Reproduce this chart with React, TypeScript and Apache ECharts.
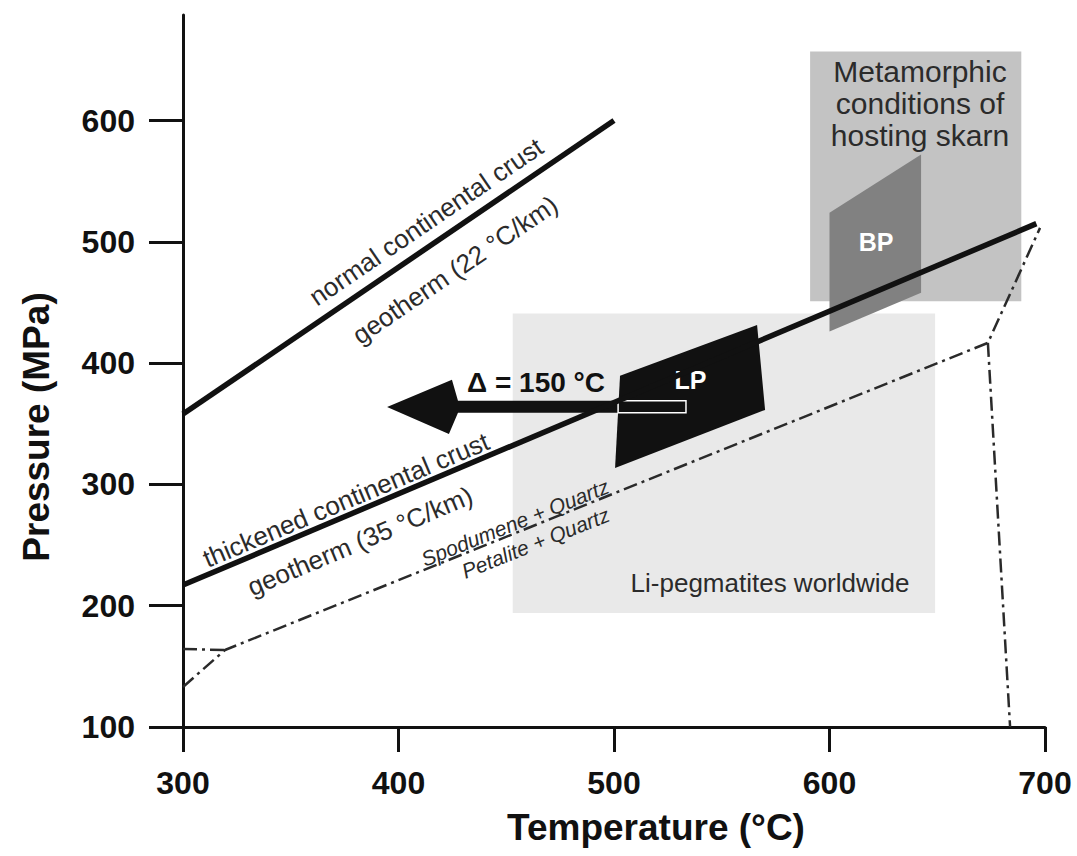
import React, { useEffect, useRef } from "react";
import * as echarts from "echarts";

const FONT = "'Liberation Sans', Arial, Helvetica, sans-serif";

// Axes
const xTicks = [300, 400, 500, 600, 700];
const yTicks = [100, 200, 300, 400, 500, 600];
const tempRange = [300, 700];
const pressRange = [100, 687];

// Geotherms (T °C, P MPa)
const normalGeotherm = [[300, 358], [500, 600]];
const thickenedGeotherm = [[300, 217], [696, 515]];

// Spodumene / Petalite phase boundaries (dash-dot)
const spdPetBoundary = [[300, 133], [319.5, 163.5], [673.5, 416.7], [697.7, 511.5]];
const lowPBranch = [[300, 164.3], [319.5, 163.5]];
const highTBranch = [[673.5, 416.7], [683.8, 100]];

// Fields
const liPegTemp = [453, 649];
const liPegPress = [194, 441];
const skarnTemp = [591, 689];
const skarnPress = [451, 657];
const bpField = [[600, 524], [642.5, 572], [642.5, 458], [600, 426]];
const lpField = [[502.8, 389.5], [566.4, 431.5], [570.1, 361.4], [500.5, 313.6]];

// Δ = 150 °C arrow
const arrowOutline = [
  [394.7, 363.9], [424.8, 386.2], [427.6, 368.9], [533.4, 368.9],
  [533.4, 359.0], [427.6, 359.0], [423.4, 341.6],
];
const arrowInLp = [[501.9, 368.9], [533.4, 368.9], [533.4, 359.0], [501.9, 359.0]];

// Annotation texts
const noteTexts = [
  "normal continental crust",
  "geotherm (22 °C/km)",
  "thickened continental crust",
  "geotherm (35 °C/km)",
  "Spodumene + Quartz",
  "Petalite + Quartz",
  "Li-pegmatites worldwide",
  "Metamorphic\nconditions of\nhosting skarn",
  "LP",
  "BP",
  "Δ = 150 °C",
];
const noteAnchors = [
  [412.8, 516.5],
  [426.2, 476.9],
  [375.6, 287.2],
  [382.1, 253.2],
  [454.1, 268.5],
  [463.6, 251.8],
  [572.4, 218.8],
  [642, 613.8],
  [535.5, 386.2],
  [621.6, 500],
  [463.8, 383.7],
];

const noteStyles = [
  { angle: 34.2, size: 26, color: "#2b2b2b" },
  { angle: 34.2, size: 26, color: "#2b2b2b" },
  { angle: 22.9, size: 26, color: "#2b2b2b" },
  { angle: 22.9, size: 26, color: "#2b2b2b" },
  { angle: 21.9, size: 21, color: "#2b2b2b", italic: true },
  { angle: 21.9, size: 21, color: "#2b2b2b", italic: true },
  { angle: 0, size: 26, color: "#2b2b2b" },
  { angle: 0, size: 30, color: "#2b2b2b", lineHeight: 32 },
  { angle: 0, size: 25, color: "#ffffff", bold: true },
  { angle: 0, size: 25, color: "#ffffff", bold: true },
  { angle: 0, size: 28, color: "#111111", bold: true },
];

function polygonSeries(pts: number[][], fill: string, stroke?: string, lineWidth?: number) {
  return {
    type: "custom",
    silent: true,
    data: [pts[0]],
    renderItem: (_params: any, api: any) => ({
      type: "polygon",
      shape: { points: pts.map((p) => api.coord(p)) },
      style: { fill, stroke: stroke || "none", lineWidth: lineWidth || 0 },
    }),
  };
}

function boxPoints(t: number[], p: number[]) {
  return [[t[0], p[0]], [t[1], p[0]], [t[1], p[1]], [t[0], p[1]]];
}

function lineSeries(data: number[][], width: number, dash?: number[]) {
  return {
    type: "line",
    silent: true,
    showSymbol: false,
    symbol: "none",
    data,
    lineStyle: { color: dash ? "#2a2a2a" : "#111111", width, type: dash || "solid" },
  };
}

export default function App() {
  const ref = useRef<HTMLDivElement>(null);

  useEffect(() => {
    document.body.style.margin = "0";
    if (!ref.current) return;
    const chart = echarts.init(ref.current, null, { renderer: "svg" });
    const dashDot = [14, 5, 3, 5];

    const option: any = {
      animation: false,
      backgroundColor: "#ffffff",
      grid: { left: 183, right: 32, top: 15, bottom: 129, outerBoundsMode: "none" },
      xAxis: {
        type: "value",
        min: tempRange[0],
        max: tempRange[1],
        interval: 100,
        name: "Temperature (°C)",
        nameLocation: "middle",
        nameGap: 82,
        nameTextStyle: {
          fontSize: 37, fontWeight: "bold", color: "#111", fontFamily: FONT,
          padding: [0, 0, 0, 84],
        },
        axisLine: { lineStyle: { color: "#111", width: 3 } },
        axisTick: { length: 25, lineStyle: { color: "#111", width: 3 }, customValues: xTicks },
        axisLabel: {
          margin: 40, fontSize: 32, fontWeight: "bold", color: "#111", fontFamily: FONT,
          customValues: xTicks,
        },
        splitLine: { show: false },
      },
      yAxis: {
        type: "value",
        min: pressRange[0],
        max: pressRange[1],
        interval: 100,
        name: "Pressure (MPa)",
        nameLocation: "middle",
        nameGap: 128,
        nameTextStyle: {
          fontSize: 37, fontWeight: "bold", color: "#111", fontFamily: FONT,
          padding: [0, 112, 0, 0],
        },
        axisLine: { lineStyle: { color: "#111", width: 3 } },
        axisTick: { length: 34, lineStyle: { color: "#111", width: 3 }, customValues: yTicks },
        axisLabel: {
          margin: 48, fontSize: 32, fontWeight: "bold", color: "#111", fontFamily: FONT,
          customValues: yTicks,
        },
        splitLine: { show: false },
      },
      series: [
        polygonSeries(boxPoints(liPegTemp, liPegPress), "#e9e9e9"),
        polygonSeries(boxPoints(skarnTemp, skarnPress), "#c3c3c3"),
        polygonSeries(bpField, "#818181"),
        polygonSeries(lpField, "#111111"),
        lineSeries(spdPetBoundary, 2.5, dashDot),
        lineSeries(lowPBranch, 2.5, dashDot),
        lineSeries(highTBranch, 2.5, dashDot),
        lineSeries(normalGeotherm, 5.5),
        lineSeries(thickenedGeotherm, 5.5),
        polygonSeries(arrowOutline, "#111111"),
        polygonSeries(arrowInLp, "#111111", "#ffffff", 1.5),
        {
          type: "custom",
          silent: true,
          data: noteAnchors,
          renderItem: (params: any, api: any) => {
            const i = params.dataIndex;
            const s: any = noteStyles[i];
            const [x, y] = api.coord(noteAnchors[i]);
            return {
              type: "text",
              x,
              y,
              rotation: (s.angle * Math.PI) / 180,
              style: {
                text: noteTexts[i],
                fill: s.color,
                fontSize: s.size,
                fontFamily: FONT,
                fontWeight: s.bold ? "bold" : "normal",
                fontStyle: s.italic ? "italic" : "normal",
                align: "center",
                verticalAlign: "middle",
                lineHeight: s.lineHeight,
              },
            };
          },
        },
      ],
    };

    chart.setOption(option);
    return () => chart.dispose();
  }, []);

  return <div ref={ref} style={{ width: 1077, height: 856 }} />;
}
